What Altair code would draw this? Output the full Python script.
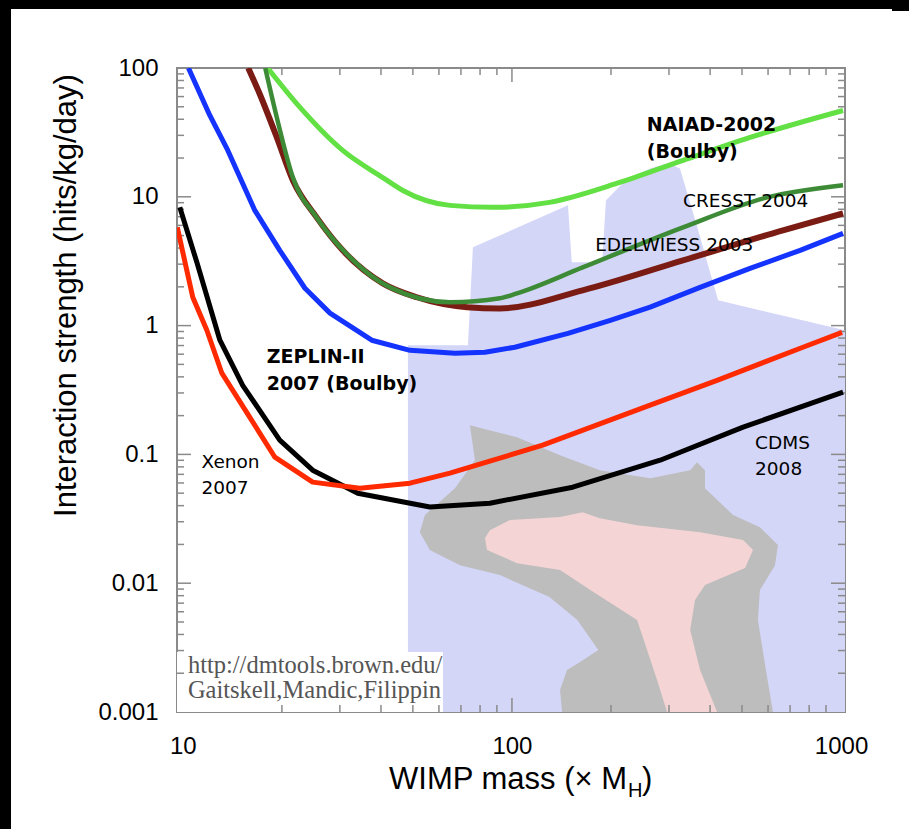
import altair as alt
import pandas as pd

# ---------------- data ----------------
# exclusion curves: WIMP mass (x M_H) -> interaction strength (hits/kg/day)
naiad_mass = [18.1, 22.7, 30.6, 40.5, 46.6, 64.8, 87.6, 130, 208, 331, 529, 1014]
naiad_rate = [100, 49.4, 22.9, 14.1, 11.2, 8.58, 8.28, 9.05, 12.7, 19.2, 28.9, 46.8]

edelweiss_mass = [15.8, 17.1, 19.3, 21.6, 25.5, 30.6, 40.5, 51.4, 73.0, 91.9, 164, 331, 666, 1014]
edelweiss_rate = [100, 63.4, 28.9, 13.4, 6.92, 3.84, 2.13, 1.66, 1.39, 1.36, 1.88, 3.21, 5.49, 7.43]

cresst_mass = [17.8, 19.3, 21.6, 25.5, 32.2, 42.6, 64.8, 91.9, 103.6, 164, 331, 596, 1014]
cresst_rate = [100, 41.3, 14.1, 6.92, 3.39, 1.98, 1.52, 1.63, 1.78, 2.83, 5.79, 9.89, 12.3]

zeplin_mass = [10.4, 12.08, 13.7, 16.55, 19.7, 23.5, 28.0, 37.5, 49.0, 67.1, 82.8, 102, 148, 199, 263, 373, 529, 751, 1014]
zeplin_rate = [100, 42.8, 22.9, 7.84, 3.84, 1.95, 1.25, 0.77, 0.643, 0.61, 0.621, 0.679, 0.871, 1.10, 1.39, 1.98, 2.78, 3.84, 5.2]

cdms_mass = [9.79, 11.03, 12.96, 15.2, 19.7, 24.8, 34.0, 56.3, 85.7, 153, 282, 504, 1014]
cdms_rate = [8.28, 3.10, 0.77, 0.344, 0.129, 0.0754, 0.050, 0.039, 0.0418, 0.0556, 0.0901, 0.163, 0.304]

xenon_mass = [9.62, 10.72, 11.83, 13.14, 15.98, 19.04, 24.8, 34.5, 49.0, 64.8, 91.9, 124, 263, 420, 766, 1007]
xenon_rate = [5.79, 1.66, 0.92, 0.427, 0.194, 0.0951, 0.0609, 0.0547, 0.0598, 0.0715, 0.0934, 0.118, 0.241, 0.376, 0.679, 0.887]

# theory regions (outlines)
lav_mass = [48.3, 48.3, 73.5, 76.1, 148, 152, 188, 193, 221, 263, 298, 324, 368, 423, 1028, 1028]
lav_rate = [0.001, 0.703, 0.703, 4.05, 8.58, 3.10, 3.10, 9.38, 13.4, 16.6, 18.2, 16.6, 5.49, 1.57, 0.92, 0.001]

gray_mass = [74.5, 103.6, 140, 185, 263, 348, 365, 386, 386, 470, 567, 643, 630, 567, 559, 588, 621,
             142, 140, 147, 161, 183, 158, 130, 91.9, 69.5, 56.3, 52.5, 54.4, 67.1, 77.2]
gray_rate = [0.1684, 0.136, 0.0986, 0.0754, 0.0654, 0.0754, 0.0870, 0.0754, 0.0547, 0.0338, 0.0272, 0.0198,
             0.0138, 0.00884, 0.00517, 0.00231, 0.001, 0.001, 0.00148, 0.00212, 0.00244, 0.00303, 0.00517,
             0.0078, 0.01156, 0.0138, 0.0181, 0.0249, 0.0338, 0.0547, 0.0901]

pink_mass = [85.7, 98.6, 140, 164, 185, 240, 373, 504, 540, 511, 386, 360, 348, 373, 420,
             296, 276, 240, 173, 140, 103.6, 84, 82.8]
pink_rate = [0.0258, 0.0309, 0.0326, 0.0356, 0.032, 0.0282, 0.0249, 0.0216, 0.0181, 0.0131, 0.00967,
             0.0074, 0.00433, 0.00212, 0.001, 0.001, 0.00177, 0.00517, 0.00884, 0.01264, 0.0143, 0.0181, 0.0224]

# curve labels
bold_text = ["NAIAD-2002\n(Boulby)", "ZEPLIN-II\n2007 (Boulby)"]
bold_mass = [257, 18.0]
bold_rate = [32.7, 0.51]

plain_text = ["CRESST 2004", "EDELWIESS 2003", "Xenon\n2007", "CDMS\n2008"]
plain_mass = [331, 179, 11.4, 548]
plain_rate = [8.28, 3.77, 0.0781, 0.1098]

# credit inset (its text is cut off at the right edge of the inset in the original)
credit_text = ["http://dmtools.brown.edu/\nGaitskell,Mandic,Filippin"]
credit_mass = [10.36]
credit_rate = [0.00201]
credit_box_mass = [9.6, 61.7]
credit_box_rate = [0.00292, 0.001]

# axis ticks
y_major = [0.01, 0.1, 1, 10]
y_minor = [0.002, 0.003, 0.004, 0.005, 0.006, 0.007, 0.008, 0.009,
           0.02, 0.03, 0.04, 0.05, 0.06, 0.07, 0.08, 0.09,
           0.2, 0.3, 0.4, 0.5, 0.6, 0.7, 0.8, 0.9,
           2, 3, 4, 5, 6, 7, 8, 9,
           20, 30, 40, 50, 60, 70, 80, 90]
x_major = [100]
x_minor = [20, 30, 40, 50, 60, 70, 80, 90, 200, 300, 400, 500, 600, 700, 800, 900]
y_labels = [0.001, 0.01, 0.1, 1, 10, 100]
x_labels = [10, 100, 1000]

# ---------------- chart ----------------
W, H = 668, 644
xs = alt.Scale(type="log", domain=[9.6, 1028], nice=False)
ys = alt.Scale(type="log", domain=[0.001, 100], nice=False)


def poly(mass, rate, color):
    df = pd.DataFrame({"m": mass, "r": rate, "i": list(range(len(mass)))})
    return alt.Chart(df).mark_line(filled=True, color=color, strokeWidth=0, clip=True).encode(
        x=alt.X("m:Q", scale=xs), y=alt.Y("r:Q", scale=ys), order=alt.Order("i:Q"))


def curve(mass, rate, color, width, interp="linear"):
    df = pd.DataFrame({"m": mass, "r": rate, "i": list(range(len(mass)))})
    return alt.Chart(df).mark_line(color=color, strokeWidth=width, strokeJoin="round", clip=True,
                                   interpolate=interp).encode(
        x=alt.X("m:Q", scale=xs), y=alt.Y("r:Q", scale=ys), order=alt.Order("i:Q"))


base_axes = alt.Chart(pd.DataFrame({"m": [10, 1000], "r": [0.001, 100]})).mark_point(opacity=0).encode(
    x=alt.X("m:Q", scale=xs, axis=alt.Axis(
        values=x_labels, format="~g", title=None, grid=False, domain=False, ticks=False, tickSize=0,
        labelFont="Liberation Sans", labelFontSize=24, labelColor="black", labelPadding=22)),
    y=alt.Y("r:Q", scale=ys, axis=alt.Axis(
        values=y_labels, format="~g", grid=False, domain=False, ticks=False, tickSize=0,
        labelFont="Liberation Sans", labelFontSize=24, labelColor="black", labelPadding=19,
        title="Interaction strength (hits/kg/day)", titleFont="Liberation Sans", titleFontSize=31,
        titleFontWeight="normal", titleColor="black", titleAngle=270, titleX=-111, titleY=227,
        titleAlign="center", titleBaseline="middle")),
)

regions = poly(lav_mass, lav_rate, "#d4d6f8") + poly(gray_mass, gray_rate, "#bdbdbd") + poly(pink_mass, pink_rate, "#f4d4d4")

credit_box = alt.Chart(pd.DataFrame({"m": [credit_box_mass[0]], "m2": [credit_box_mass[1]],
                                     "r": [credit_box_rate[0]], "r2": [credit_box_rate[1]]})).mark_rect(
    color="white").encode(x=alt.X("m:Q", scale=xs), x2="m2:Q", y=alt.Y("r:Q", scale=ys), y2="r2:Q")

credit = alt.Chart(pd.DataFrame({"t": credit_text, "m": credit_mass, "r": credit_rate})).mark_text(
    font="Liberation Serif", fontSize=24.5, color="#555555", align="left", baseline="alphabetic",
    lineBreak="\n", lineHeight=25).encode(
    x=alt.X("m:Q", scale=xs), y=alt.Y("r:Q", scale=ys), text="t:N")

lines = (curve(naiad_mass, naiad_rate, "#63e043", 5, "monotone")
         + curve(edelweiss_mass, edelweiss_rate, "#7b1c14", 6, "monotone")
         + curve(cresst_mass, cresst_rate, "#3d8b37", 4.5, "monotone")
         + curve(zeplin_mass, zeplin_rate, "#1433ff", 5)
         + curve(cdms_mass, cdms_rate, "black", 5)
         + curve(xenon_mass, xenon_rate, "#ff2a00", 5))

bold_labels = alt.Chart(pd.DataFrame({"t": bold_text, "m": bold_mass, "r": bold_rate})).mark_text(
    font="DejaVu Sans", fontSize=19, fontWeight="bold", color="black", align="left",
    baseline="alphabetic", lineBreak="\n", lineHeight=27).encode(
    x=alt.X("m:Q", scale=xs), y=alt.Y("r:Q", scale=ys), text="t:N")

plain_labels = alt.Chart(pd.DataFrame({"t": plain_text, "m": plain_mass, "r": plain_rate})).mark_text(
    font="DejaVu Sans", fontSize=18.5, color="black", align="left",
    baseline="alphabetic", lineBreak="\n", lineHeight=26).encode(
    x=alt.X("m:Q", scale=xs), y=alt.Y("r:Q", scale=ys), text="t:N")


def ticks_y(vals, length, right=False):
    df = pd.DataFrame({"r": vals})
    x0 = W if right else 0
    x1 = W - length if right else length
    return alt.Chart(df).mark_rule(color="#8a8a8a", strokeWidth=1.5).encode(
        y=alt.Y("r:Q", scale=ys), x=alt.value(x0), x2=alt.value(x1))


def ticks_x(vals, length, top=False):
    df = pd.DataFrame({"m": vals})
    y0 = 0 if top else H
    y1 = length if top else H - length
    return alt.Chart(df).mark_rule(color="#8a8a8a", strokeWidth=1.5).encode(
        x=alt.X("m:Q", scale=xs), y=alt.value(y0), y2=alt.value(y1))


ticks = (ticks_y(y_major, 14) + ticks_y(y_minor, 7) + ticks_y(y_major, 14, True) + ticks_y(y_minor, 7, True)
         + ticks_x(x_major, 14) + ticks_x(x_minor, 7) + ticks_x(x_major, 14, True) + ticks_x(x_minor, 7, True))

# x-axis title with subscript H
one = pd.DataFrame({"a": [0]})
xt_main = alt.Chart(one).mark_text(text="WIMP mass (× M", font="Liberation Sans", fontSize=31,
                                   align="right", baseline="alphabetic", color="black").encode(
    x=alt.value(450), y=alt.value(721))
xt_sub = alt.Chart(one).mark_text(text="H", font="Liberation Sans", fontSize=20,
                                  align="left", baseline="alphabetic", color="black").encode(
    x=alt.value(451), y=alt.value(729))
xt_end = alt.Chart(one).mark_text(text=")", font="Liberation Sans", fontSize=31,
                                  align="left", baseline="alphabetic", color="black").encode(
    x=alt.value(465), y=alt.value(721))

# black frame of the screenshot
frame_left = alt.Chart(one).mark_rect(color="black").encode(
    x=alt.value(-177), x2=alt.value(-166), y=alt.value(-68), y2=alt.value(770))
frame_top = alt.Chart(one).mark_rect(color="black").encode(
    x=alt.value(-177), x2=alt.value(732), y=alt.value(-68), y2=alt.value(-59))
frame_tr = alt.Chart(one).mark_rect(color="black").encode(
    x=alt.value(715), x2=alt.value(732), y=alt.value(-68), y2=alt.value(-57))

chart = alt.layer(
    base_axes, regions, credit_box, credit, ticks, lines, bold_labels, plain_labels,
    xt_main, xt_sub, xt_end, frame_left, frame_top, frame_tr
).properties(
    width=W, height=H,
    autosize=alt.AutoSizeParams(type="none"),
    padding={"left": 177, "top": 68, "right": 64, "bottom": 117},
    background="white",
).configure_view(stroke="#8a8a8a", strokeWidth=2)

chart.save("out.html", embed_options={"renderer": "svg", "actions": False})
